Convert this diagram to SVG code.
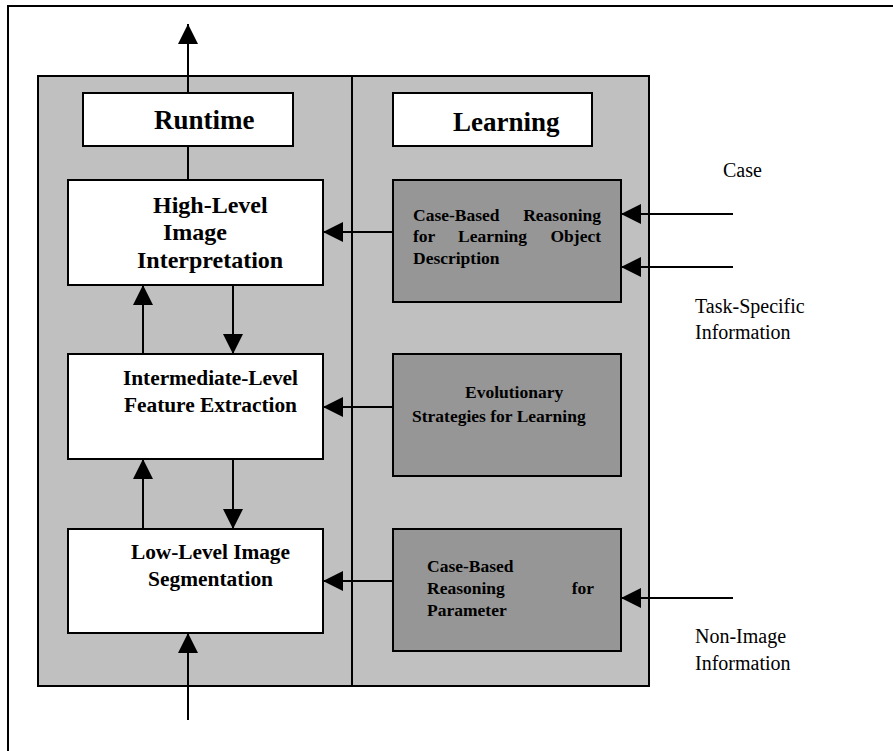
<svg xmlns="http://www.w3.org/2000/svg" width="893" height="751" viewBox="0 0 893 751">
<defs>
<style>
.frame{fill:none;stroke:#000;stroke-width:2}
.panel{fill:#c0c0c0;stroke:#000;stroke-width:2}
.wbox{fill:#fff;stroke:#000;stroke-width:2}
.gbox{fill:#969696;stroke:#000;stroke-width:2}
.conn{fill:none;stroke:#000;stroke-width:2}
.title{font-family:"Liberation Serif",serif;font-weight:bold;font-size:27px;fill:#000}
.rt{font-family:"Liberation Serif",serif;font-weight:bold;font-size:24px;fill:#000}
.rs{font-family:"Liberation Serif",serif;font-weight:bold;font-size:21.4px;fill:#000}
.lt{font-family:"Liberation Serif",serif;font-weight:bold;font-size:17.5px;fill:#000}
.lab{font-family:"Liberation Serif",serif;font-size:20px;fill:#000}
</style>
<marker id="ah" viewBox="0 0 20 20" refX="20" refY="10" markerWidth="20" markerHeight="20" markerUnits="userSpaceOnUse" orient="auto">
<path d="M0,0 L20,10 L0,20 Z" fill="#000"/>
</marker>
</defs>
<g id="frame">
<path class="frame" d="M8,751 V6 H893"/>
</g>
<g id="panel">
<rect class="panel" x="38" y="76" width="611" height="610"/>
<line class="conn" x1="352" y1="76" x2="352" y2="686"/>
</g>
<g id="runtime">
<rect class="wbox" x="83" y="93" width="210" height="53"/>
<text class="title" x="154" y="129">Runtime</text>
</g>
<g id="learning">
<rect class="wbox" x="393" y="93" width="199" height="53"/>
<text class="title" x="453" y="131">Learning</text>
</g>
<g id="high">
<rect class="wbox" x="68" y="180" width="255" height="105"/>
<text class="rt" x="153" y="213">High-Level</text>
<text class="rt" x="163" y="240">Image</text>
<text class="rt" x="137" y="268">Interpretation</text>
</g>
<g id="intermediate">
<rect class="wbox" x="68" y="354" width="255" height="105"/>
<text class="rs" x="123" y="385" textLength="175">Intermediate-Level</text>
<text class="rs" x="124" y="412" textLength="173">Feature Extraction</text>
</g>
<g id="low">
<rect class="wbox" x="68" y="529" width="255" height="104"/>
<text class="rs" x="131" y="559" textLength="159">Low-Level Image</text>
<text class="rs" x="148" y="586" textLength="125">Segmentation</text>
</g>
<g id="cbr-object">
<rect class="gbox" x="393" y="180" width="228" height="122"/>
<text class="lt" x="413" y="221">Case-Based</text>
<text class="lt" x="601" y="221" text-anchor="end">Reasoning</text>
<text class="lt" x="413" y="242">for</text>
<text class="lt" x="458" y="242">Learning</text>
<text class="lt" x="601" y="242" text-anchor="end">Object</text>
<text class="lt" x="413" y="264">Description</text>
</g>
<g id="evolutionary">
<rect class="gbox" x="393" y="354" width="228" height="122"/>
<text class="lt" x="465" y="398">Evolutionary</text>
<text class="lt" x="412" y="422">Strategies for Learning</text>
</g>
<g id="cbr-param">
<rect class="gbox" x="393" y="529" width="228" height="122"/>
<text class="lt" x="427" y="572">Case-Based</text>
<text class="lt" x="427" y="594">Reasoning</text>
<text class="lt" x="594" y="594" text-anchor="end">for</text>
<text class="lt" x="427" y="616">Parameter</text>
</g>
<g id="labels">
<text class="lab" x="723" y="177">Case</text>
<text class="lab" x="695" y="313">Task-Specific</text>
<text class="lab" x="695" y="339">Information</text>
<text class="lab" x="695" y="643">Non-Image</text>
<text class="lab" x="695" y="670">Information</text>
</g>
<g id="connectors">
<line class="conn" x1="188" y1="93" x2="188" y2="24" marker-end="url(#ah)"/>
<line class="conn" x1="188" y1="146" x2="188" y2="180"/>
<line class="conn" x1="143" y1="354" x2="143" y2="285" marker-end="url(#ah)"/>
<line class="conn" x1="233" y1="285" x2="233" y2="354" marker-end="url(#ah)"/>
<line class="conn" x1="143" y1="529" x2="143" y2="459" marker-end="url(#ah)"/>
<line class="conn" x1="233" y1="459" x2="233" y2="529" marker-end="url(#ah)"/>
<line class="conn" x1="188" y1="720" x2="188" y2="633" marker-end="url(#ah)"/>
<line class="conn" x1="393" y1="232" x2="323" y2="232" marker-end="url(#ah)"/>
<line class="conn" x1="393" y1="407" x2="323" y2="407" marker-end="url(#ah)"/>
<line class="conn" x1="393" y1="581" x2="323" y2="581" marker-end="url(#ah)"/>
<line class="conn" x1="733" y1="214" x2="621" y2="214" marker-end="url(#ah)"/>
<line class="conn" x1="733" y1="267" x2="621" y2="267" marker-end="url(#ah)"/>
<line class="conn" x1="733" y1="598" x2="621" y2="598" marker-end="url(#ah)"/>
</g>
</svg>
